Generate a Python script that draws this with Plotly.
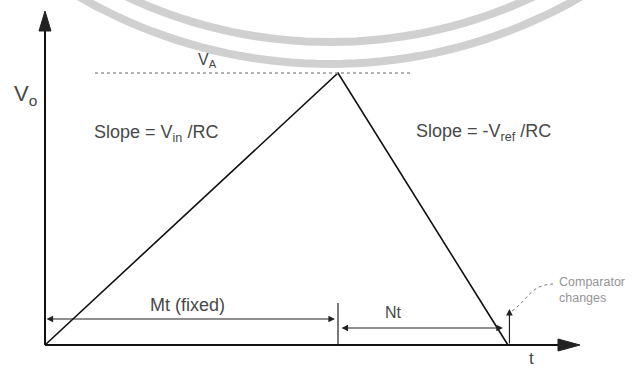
import math
import plotly.graph_objects as go

# Integrator output of a dual-slope converter
t_points = [0.0, 1.0, 1.58]      # start, end of fixed run-up (Mt), comparator trip (Mt + Nt)
vo_points = [0.0, 1.0, 0.0]      # output voltage, normalised to the peak V_A
v_peak = 1.0

W, H = 642, 369
X0, Y0 = 45, 345                 # pixel position of the origin
SX, SY = 293.0, 272.0            # pixels per unit along t and Vo

x_range = [-X0 / SX, (W - X0) / SX]
y_range = [-(H - Y0) / SY, Y0 / SY]


def px(x):
    return (x - X0) / SX


def py(y):
    return (Y0 - y) / SY


t_mt = t_points[1]
t_end = t_points[2]

fig = go.Figure()


def ring_arc(cx, bottom, r, half_angle=0.62, n=48):
    """SVG path for the lower part of a circle whose lowest point is at y=bottom."""
    cy = bottom - r
    pts = []
    for i in range(n + 1):
        a = -half_angle + 2 * half_angle * i / n
        pts.append((cx + r * math.sin(a), cy + r * math.cos(a)))
    return "M" + " L".join(f"{x:.1f},{y:.1f}" for x, y in pts)


# seal ring in the background
for bottom, r in [(64, 501), (42, 479)]:
    fig.add_shape(type="path", path=ring_arc(330, bottom, r), xref="x2", yref="y2",
                  line=dict(color="rgba(205,205,205,0.95)", width=8), layer="below")

# dotted V_A level
fig.add_shape(type="line", x0=px(95), x1=px(410), y0=v_peak, y1=v_peak,
              line=dict(color="#9a9a9a", width=1.5, dash="dot"))

# ramp
fig.add_trace(go.Scatter(x=t_points, y=vo_points, mode="lines",
                         line=dict(color="#111", width=1.6), showlegend=False,
                         hoverinfo="skip"))

# axes
fig.add_shape(type="line", x0=0, x1=px(565), y0=0, y1=0, line=dict(color="#111", width=2))
fig.add_shape(type="line", x0=0, x1=0, y0=0, y1=py(26), line=dict(color="#111", width=2))
fig.add_shape(type="path", xref="x2", yref="y2",
              path="M558,339 L580,345 L558,351 Z", fillcolor="#222", line=dict(color="#222", width=1))
fig.add_shape(type="path", xref="x2", yref="y2",
              path="M39,31 L45,11 L51,31 Z", fillcolor="#222", line=dict(color="#222", width=1))

# divider tick at end of fixed interval
fig.add_shape(type="line", x0=t_mt, x1=t_mt, y0=0, y1=py(303), line=dict(color="#222", width=1.2))

# dimension arrows
arrow_style = dict(showarrow=True, arrowhead=2, arrowsize=1.1, arrowwidth=1.2,
                   arrowcolor="#222", text="", axref="x", ayref="y", xref="x", yref="y")
fig.add_annotation(x=t_mt - px(48), y=py(319), ax=0, ay=py(319),
                   arrowside="end+start", **arrow_style)
fig.add_annotation(x=t_end - px(50), y=py(328), ax=t_mt + px(47), ay=py(328),
                   arrowside="end+start", **arrow_style)
# comparator trip marker
fig.add_annotation(x=t_end + px(46.5), y=py(309), ax=t_end + px(46.5), ay=0,
                   arrowside="end", **arrow_style)

# dashed leader to the comparator note
fig.add_shape(type="path", xref="x2", yref="y2",
              path="M512,311 C528,300 530,285 553,284",
              line=dict(color="#777", width=1, dash="dot"))

FAMILY = "Liberation Sans, Arial, sans-serif"


def label(x, y, text, size, xanchor="center", color="#484848", align="center"):
    fig.add_annotation(x=x, y=y, xref="x2", yref="y2", text=text, showarrow=False,
                       xanchor=xanchor, yanchor="middle", align=align,
                       font=dict(family=FAMILY, size=size, color=color))


label(25, 95, "V<sub>o</sub>", 22)
label(207, 60, "V<sub>A</sub>", 16)
label(156, 133, "Slope = V<sub>in</sub> /RC", 18)
label(483, 132, "Slope = -V<sub>ref</sub> /RC", 18)
label(187, 305, "Mt (fixed)", 18)
label(393, 312, "Nt", 16)
label(531, 358, "t", 17)
label(557, 290, "Comparator<br>changes", 12.5, xanchor="left", color="#959595", align="left")

fig.update_layout(
    width=W, height=H, margin=dict(l=0, r=0, t=0, b=0),
    paper_bgcolor="white", plot_bgcolor="white",
    xaxis=dict(range=x_range, visible=False, fixedrange=True),
    yaxis=dict(range=y_range, visible=False, fixedrange=True),
    xaxis2=dict(range=[0, W], visible=False, overlaying="x", fixedrange=True),
    yaxis2=dict(range=[H, 0], visible=False, overlaying="y", fixedrange=True),
    showlegend=False,
)

fig.write_html("out.html")
